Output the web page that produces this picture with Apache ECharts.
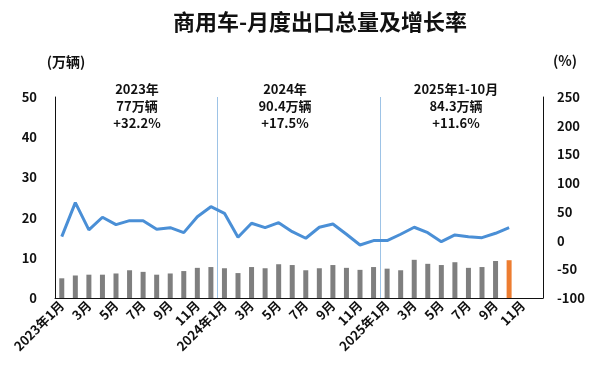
<!DOCTYPE html>
<html>
<head>
    <meta charset="utf-8">
    <title>index</title>
    <style>
        html, body { margin: 0; padding: 0; background: #fff; }
        #container { width: 600px; height: 378px; }
    </style>
</head>
<body>
    <div id="container"></div>
</body>
<script src="https://cdn.jsdelivr.net/npm/echarts@6/dist/echarts.min.js"></script>
<script type="text/javascript">
    // 月份（36个类目，2025年11、12月无数据）
    var months = ['2023年1月', '2月', '3月', '4月', '5月', '6月', '7月', '8月', '9月', '10月', '11月', '12月',
        '2024年1月', '2月', '3月', '4月', '5月', '6月', '7月', '8月', '9月', '10月', '11月', '12月',
        '2025年1月', '2月', '3月', '4月', '5月', '6月', '7月', '8月', '9月', '10月', '11月', '12月'];

    // 出口量（万辆）
    var exportVolume = [4.9, 5.6, 5.8, 5.8, 6.1, 6.9, 6.5, 5.8, 6.1, 6.7, 7.5, 7.7,
        7.4, 6.2, 7.7, 7.4, 8.4, 8.2, 6.9, 7.4, 8.2, 7.5, 7.0, 7.7,
        7.3, 6.9, 9.5, 8.5, 8.2, 8.9, 7.5, 7.7, 9.2, 9.4];

    // 同比增长率（%）
    var growthRate = [6.8, 66, 18.5, 40.6, 27.7, 34.7, 34.7, 19.7, 22.5, 13.8, 41.6, 59,
        47.5, 5.7, 30.1, 22.5, 31.2, 15.5, 4, 23.2, 28.9, 11, -7.7, 0,
        0, 11, 23.2, 13.8, -1.9, 9.8, 6.8, 5.1, 12.7, 22.5];

    // 年度汇总标注
    var yearNotes = ['2023年\n77万辆\n+32.2%', '2024年\n90.4万辆\n+17.5%', '2025年1-10月\n84.3万辆\n+11.6%'];
    var yearStarts = [12, 24]; // 年份分隔线所在类目
    var highlightIndex = 33;   // 当月（橙色）

    var font = '"Noto Sans CJK SC", "Noto Sans", sans-serif';

    var dom = document.getElementById('container');
    var myChart = echarts.init(dom);

    var option = {
        animation: false,
        textStyle: { fontFamily: font },
        grid: { left: 55, right: 57, top: 97, bottom: 80 },
        graphic: [
            {
                type: 'text', x: 320, y: 22,
                style: { text: '商用车-月度出口总量及增长率', font: 'bold 22px ' + font, fill: '#111', align: 'center', verticalAlign: 'middle' }
            },
            {
                type: 'text', x: 66, y: 62,
                style: { text: '(万辆)', font: 'bold 14px ' + font, fill: '#111', align: 'center', verticalAlign: 'middle' }
            },
            {
                type: 'text', x: 565, y: 61,
                style: { text: '(%)', font: 'bold 14px ' + font, fill: '#111', align: 'center', verticalAlign: 'middle' }
            },
            {
                type: 'text', x: 137, y: 81,
                style: { text: yearNotes[0], font: 'bold 13px ' + font, lineHeight: 17, fill: '#111', align: 'center', verticalAlign: 'top' }
            },
            {
                type: 'text', x: 285, y: 81,
                style: { text: yearNotes[1], font: 'bold 13px ' + font, lineHeight: 17, fill: '#111', align: 'center', verticalAlign: 'top' }
            },
            {
                type: 'text', x: 456, y: 81,
                style: { text: yearNotes[2], font: 'bold 13px ' + font, lineHeight: 17, fill: '#111', align: 'center', verticalAlign: 'top' }
            }
        ],
        xAxis: {
            type: 'category',
            data: months,
            boundaryGap: true,
            axisLine: { lineStyle: { color: '#111', width: 1 } },
            axisTick: { show: false },
            axisLabel: {
                interval: 1,
                rotate: 45,
                margin: 5,
                color: '#111',
                fontWeight: 'bold',
                fontSize: 13
            },
            splitLine: {
                show: true,
                interval: function (index) { return yearStarts.indexOf(index) >= 0; },
                lineStyle: { color: '#9DC3E6', width: 1 }
            }
        },
        yAxis: [
            {
                type: 'value',
                min: 0, max: 50, interval: 10,
                axisLine: { show: true, lineStyle: { color: '#111', width: 1 } },
                axisTick: { show: false },
                splitLine: { show: false },
                axisLabel: { margin: 18, color: '#111', fontWeight: 'bold', fontSize: 13 }
            },
            {
                type: 'value',
                min: -100, max: 250, interval: 50,
                axisLine: { show: true, lineStyle: { color: '#111', width: 1 } },
                axisTick: { show: false },
                splitLine: { show: false },
                axisLabel: { margin: 14, color: '#111', fontWeight: 'bold', fontSize: 13 }
            }
        ],
        series: [
            {
                type: 'bar',
                yAxisIndex: 0,
                data: exportVolume,
                barWidth: 5,
                itemStyle: {
                    color: function (p) { return p.dataIndex === highlightIndex ? '#ED7D31' : '#7F7F7F'; }
                }
            },
            {
                type: 'line',
                yAxisIndex: 1,
                data: growthRate,
                symbol: 'none',
                lineStyle: { color: '#4A8FD6', width: 3 },
                z: 3
            }
        ]
    };

    myChart.setOption(option, true);
</script>
</html>
